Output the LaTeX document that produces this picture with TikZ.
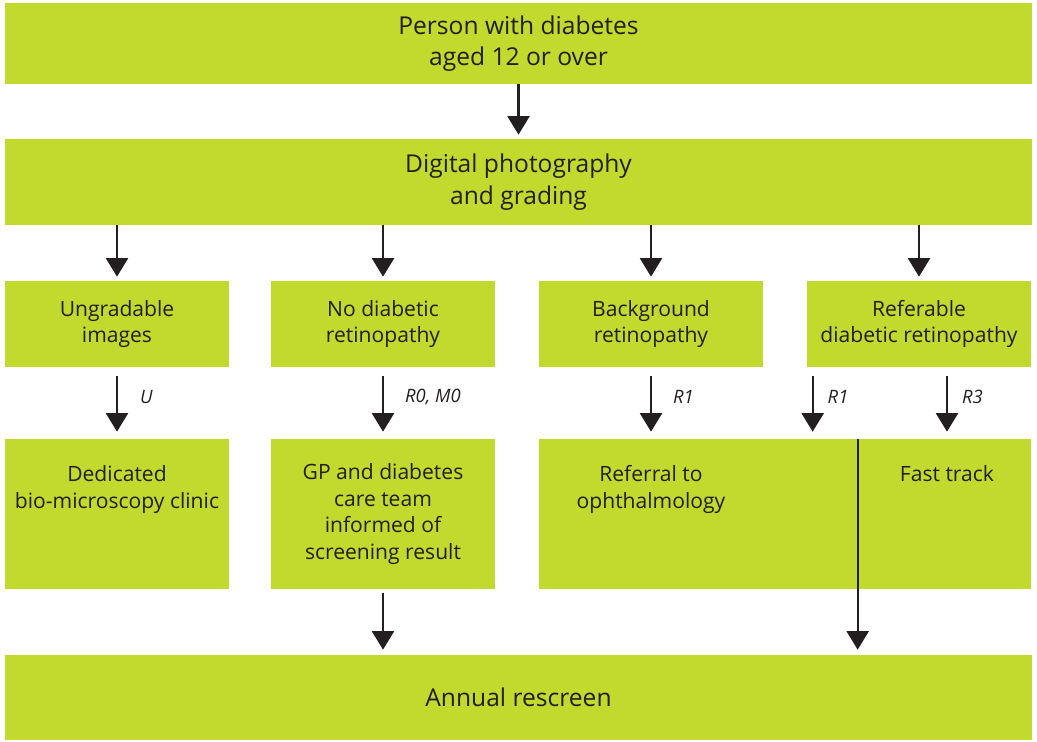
\documentclass[tikz,border=0pt]{standalone}
\usepackage{fontspec}
\setmainfont{Open Sans}
\usetikzlibrary{arrows.meta}
\definecolor{screengreen}{RGB}{194,217,46}
\definecolor{inkgrey}{RGB}{35,31,32}

\begin{document}
\begin{tikzpicture}[x=0.02cm,y=-0.02cm,
  box/.style={fill=screengreen,inner sep=0pt,minimum height=1.72cm,text=inkgrey,align=center},
  wide/.style={box,minimum width=20.54cm,font=\fontsize{14}{18}\selectfont},
  small/.style={box,minimum width=4.48cm,font=\fontsize{12}{15.3}\selectfont},
  txt/.style={anchor=north,inner sep=0pt,text=inkgrey,align=center,font=\fontsize{12}{15.3}\selectfont},
  flow/.style={draw=inkgrey,line width=1.2pt,-{Triangle[width=12.5pt,length=10.5pt]}},
  tag/.style={inner sep=0pt,text=inkgrey,yshift=0.12cm,font=\fontsize{10.5}{12}\selectfont\itshape}]
\useasboundingbox (0,0) rectangle (1037,742);
\node[wide,minimum height=1.62cm] (person) at (518.5,43.5) {Person with diabetes\\aged 12 or over};
\node[wide] (photo) at (518.5,182) {Digital photography\\and grading};
\node[small] (ungrad) at (117,324) {Ungradable\\images};
\node[small] (nodr) at (383,324) {No diabetic\\retinopathy};
\node[small] (backgr) at (651,324) {Background\\retinopathy};
\node[small] (refer) at (919,324) {Referable\\diabetic retinopathy};
\node[box,minimum width=4.48cm,minimum height=3cm] (clinic) at (117,514) {};
\node[small,minimum height=3cm] (gp) at (383,514) {GP and diabetes\\care team\\informed of\\screening result};
\node[box,minimum width=6.38cm,minimum height=3cm] (ophth) at (698.5,514) {};
\node[box,minimum width=3.46cm,minimum height=3cm] (fast) at (944.5,514) {};
\node[wide,minimum height=1.7cm] (annual) at (518.5,697.5) {Annual rescreen};
\node[txt] (clinictext) at (117,465) {Dedicated\\bio-microscopy clinic};
\node[txt] (ophthtext) at (651,465) {Referral to\\ophthalmology};
\node[txt] (fasttext) at (947,465) {Fast track};
\coordinate (r1) at ([xshift=0.12cm]refer.south west);   % second R1 leaves the referable box
\draw[flow,shorten >=0.08cm] (person) -- (photo);
\foreach \col in {ungrad,nodr,backgr,refer}
  \draw[flow,shorten >=0.08cm] (photo.south -| \col.north) -- (\col.north);
\draw[flow,shorten <=0.18cm,shorten >=0.14cm] (ungrad) -- node[tag,right=0.44cm] {U} (clinic);
\draw[flow,shorten <=0.18cm,shorten >=0.14cm] (nodr) -- node[tag,right=0.42cm] {R0, M0} (gp);
\draw[flow,shorten <=0.18cm,shorten >=0.14cm] (backgr) -- node[tag,right=0.42cm] {R1} (backgr |- ophth.north);
\draw[flow,shorten <=0.18cm,shorten >=0.14cm] (r1) -- node[tag,right=0.28cm] {R1} (r1 |- ophth.north);
\draw[flow,shorten <=0.18cm,shorten >=0.14cm] (fasttext |- refer.south) -- node[tag,right=0.28cm] {R3} (fasttext |- fast.north);
\draw[flow,shorten <=0.08cm,shorten >=0.1cm] (gp) -- (gp |- annual.north);
\draw[flow,shorten >=0.1cm] (fast.north west) -- (fast.north west |- annual.north);   % divider runs on to the rescreen
\end{tikzpicture}
\end{document}
